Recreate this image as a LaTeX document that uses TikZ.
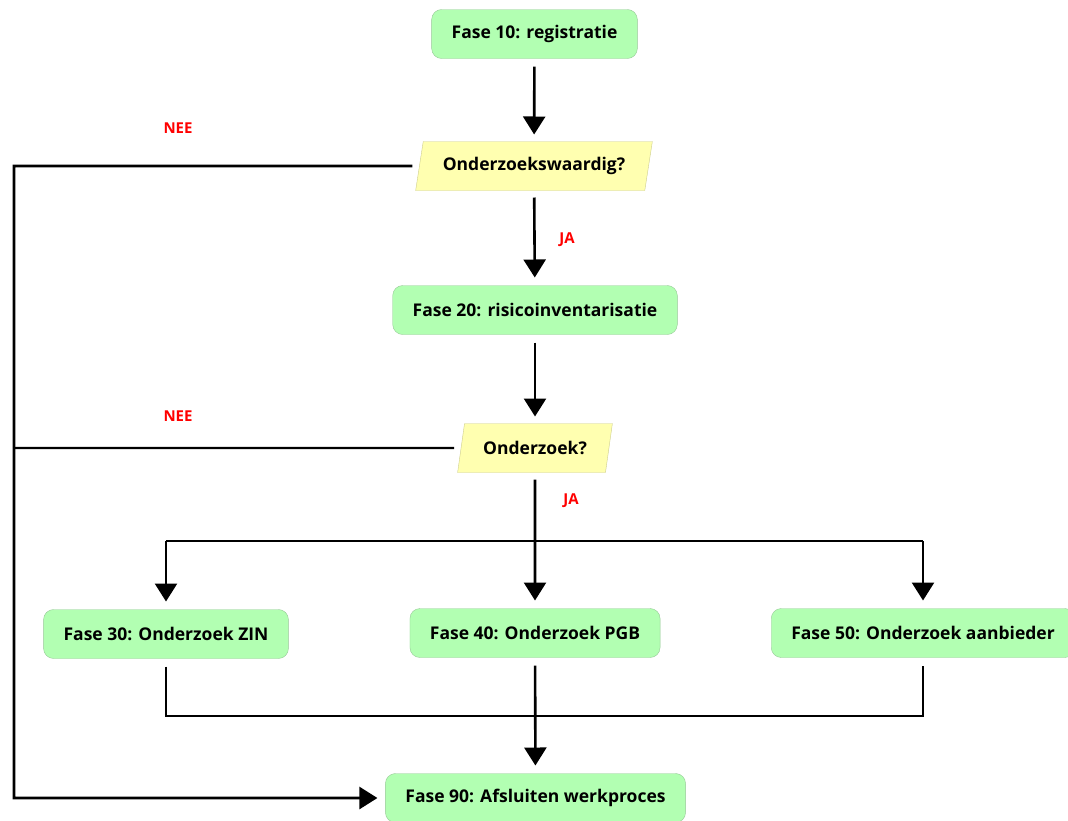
\documentclass[tikz,border=0pt]{standalone}
\usepackage{fontspec}
\setmainfont{Open Sans}
\usetikzlibrary{arrows.meta,shapes.geometric}
\definecolor{fasegroen}{RGB}{178,255,178}
\definecolor{faserand}{RGB}{150,200,150}
\definecolor{vraaggeel}{RGB}{255,255,176}
\definecolor{vraagrand}{RGB}{205,205,140}

\begin{document}
\begin{tikzpicture}[x=1pt,y=-1pt,
  fase/.style={draw=faserand,fill=fasegroen,rounded corners=10pt,
    minimum height=49pt,inner xsep=20pt,outer sep=8pt,
    font=\fontsize{17.5}{20}\selectfont\bfseries},
  vraag/.style={trapezium,trapezium left angle=75,trapezium right angle=105,
    trapezium stretches=true,draw=vraagrand,fill=vraaggeel,
    minimum height=49pt,outer sep=7pt,
    font=\fontsize{17.5}{20}\selectfont\bfseries},
  flow/.style={line width=2.6pt,-{Triangle[width=22pt,length=18pt]}},
  lijn/.style={line width=2.4pt},
  keuze/.style={text=red,font=\fontsize{15}{18}\selectfont\bfseries}]
  \useasboundingbox (0,0) rectangle (1068,820);

  %fases en vragen
  \node[fase] (f10) at (534.5,34) {Fase 10: registratie};
  \node[vraag,minimum width=237pt] (q1) at (534,166) {Onderzoekswaardig?};
  \node[fase] (f20) at (535,310) {Fase 20: risicoinventarisatie};
  \node[vraag,minimum width=155pt] (q2) at (535,448) {Onderzoek?};
  \node[fase] (f30) at (166,634) {Fase 30: Onderzoek ZIN};
  \node[fase] (f40) at (535,633) {Fase 40: Onderzoek PGB};
  \node[fase] (f50) at (923,633) {Fase 50: Onderzoek aanbieder};
  \node[fase] (f90) at (535.5,798) {Fase 90: Afsluiten werkproces};

  %hulppunten
  \coordinate (links) at (14,166);
  \coordinate (splits) at (536,541);
  \coordinate (samen) at (536,716);

  %hoofdlijn
  \draw[flow] (f10) -- (q1);
  \draw[flow] (q1) -- (f20);
  \draw[flow] (f20) -- (q2);
  \draw[flow] (q2) -- (f40);

  %vertakking naar fase 30 en 50
  \draw[lijn] (splits -| f30) -- (splits -| f50);
  \draw[flow] (splits -| f30) -- (f30);
  \draw[flow] (splits -| f50) -- (f50);

  %terug naar fase 90
  \draw[lijn] (f30) |- (samen) -| (f50);
  \draw[flow] (f40) -- (f90);

  %nee-takken
  \draw[flow] (q1) -- (links) |- (f90);
  \draw[lijn] (q2) -- (q2 -| links);

  %labels
  \node[keuze] (nee1) at (178,128) {NEE};
  \node[keuze] (ja1) at (567,240) {JA};
  \node[keuze] (nee2) at (178,416) {NEE};
  \node[keuze] (ja2) at (571,501) {JA};
\end{tikzpicture}
\end{document}
